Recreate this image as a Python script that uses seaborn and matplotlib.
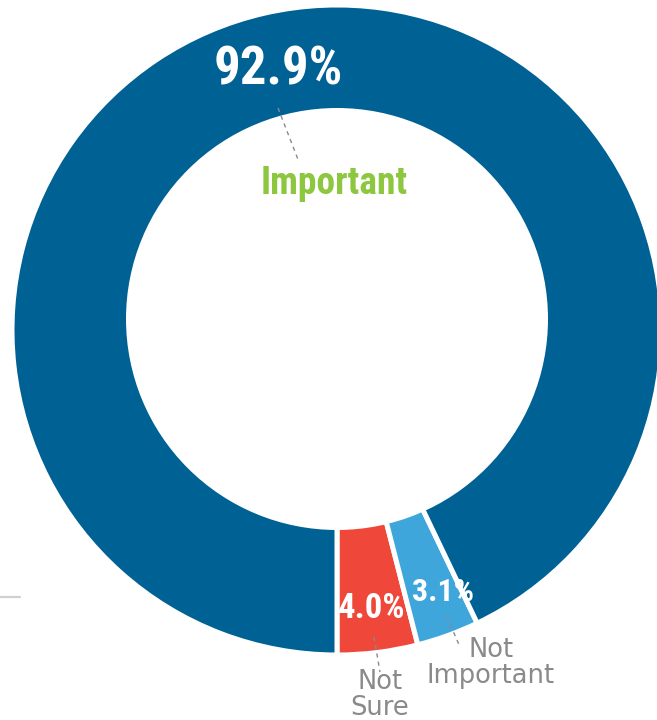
import matplotlib
matplotlib.use("Agg")
import matplotlib.pyplot as plt
from matplotlib.patches import Circle
import seaborn as sns

# Survey shares, in pie order starting at the bottom and running counter-clockwise
categories = ["Not Sure", "Not Important", "Important"]
shares = [4.0, 3.1, 92.9]
category_labels = ["Not\nSure", "Not\nImportant", "Important"]

sns.set_theme(style="white")
plt.rcParams["font.family"] = ["DejaVu Sans"]

palette = sns.color_palette(["#EF473A", "#3FA6DC", "#006194"])
label_grey = "#8A8A8C"
important_green = "#8DC63F"
num_family = ["Roboto Condensed", "Liberation Sans Narrow", "DejaVu Sans"]

W, H = 657, 720
fig = plt.figure(figsize=(W / 100, H / 100), dpi=100)
ax = fig.add_axes([0, 0, 1, 1])


def py(y):
    """Top-down pixel row to data y."""
    return H - y


ring_center = (337, py(330))
ax.pie(
    shares,
    colors=palette,
    startangle=-90,
    counterclock=True,
    radius=325,
    center=ring_center,
    frame=True,
    wedgeprops=dict(edgecolor="white", linewidth=3.6),
)
# donut hole
ax.add_patch(Circle((337, py(319)), 211, facecolor="white", edgecolor="none", zorder=5))

ax.set_xlim(0, W)
ax.set_ylim(0, H)
ax.set_aspect("equal")
ax.axis("off")

# percentage labels
pct_style = dict(color="white", fontweight="bold", family=num_family,
                 fontstretch="condensed", ha="center", va="center", zorder=10)
ax.text(278, py(70), f"{shares[2]:.1f}%", fontsize=38, **pct_style)
ax.text(372, py(608), f"{shares[0]:.1f}%", fontsize=25, **pct_style)
ax.text(443, py(592), f"{shares[1]:.1f}%", fontsize=23, **pct_style)

# category labels
ax.text(334, py(184), category_labels[2], color=important_green, fontsize=27,
        fontweight="semibold", family=num_family, fontstretch="condensed",
        ha="center", va="center", zorder=10)
ax.text(380, py(695), category_labels[0], color=label_grey, fontsize=18.5,
        ha="center", va="center", linespacing=1.0, zorder=10)
ax.text(491, py(663), category_labels[1], color=label_grey, fontsize=18.5,
        ha="center", va="center", linespacing=1.0, zorder=10)

# dashed leader lines
lead = dict(color="#8A8A8C", linestyle=(0, (3, 3)), linewidth=1.0, zorder=10)
ax.plot([278, 299], [py(108), py(162)], **lead)
ax.plot([374, 380], [py(637), py(672)], **lead)
ax.plot([447, 460], [py(617), py(647)], **lead)

# small rule at the left margin
ax.plot([0, 20], [py(597), py(597)], color="#D0D0D0", linewidth=1.6, zorder=10)

fig.savefig("out.png", dpi=100, facecolor="white")
